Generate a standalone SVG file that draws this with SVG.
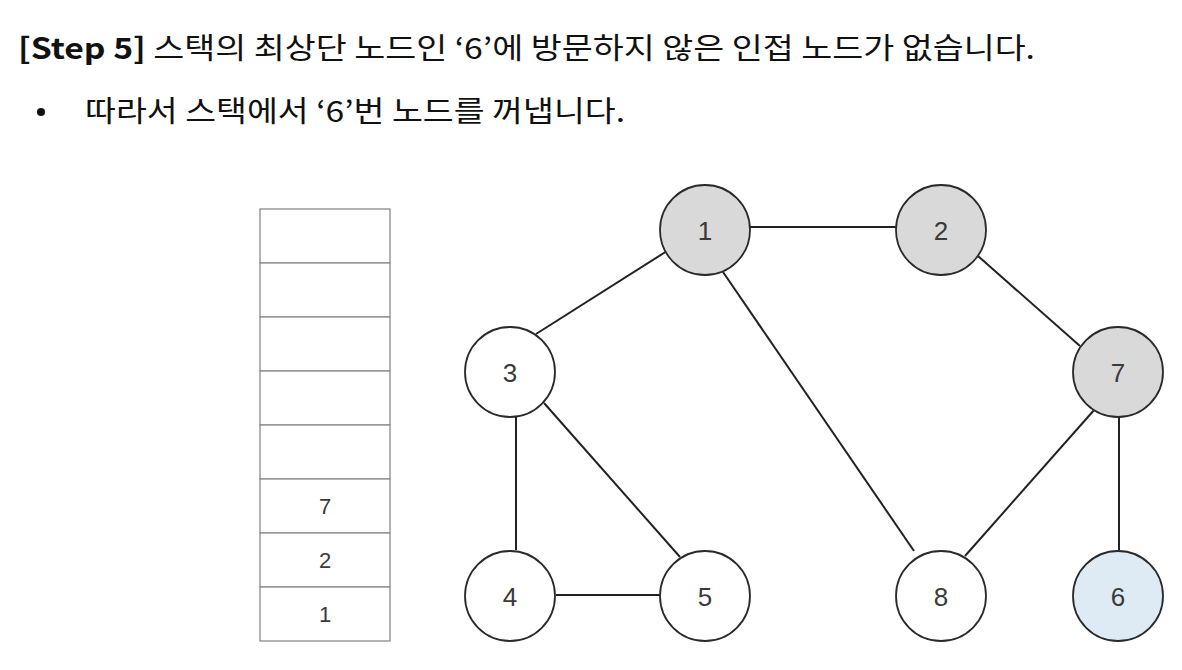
<svg xmlns="http://www.w3.org/2000/svg" width="1182" height="670" viewBox="0 0 1182 670">
<style>
.t{font-family:"Noto Sans CJK KR","Liberation Sans",sans-serif;fill:#111;font-size:29px}
.cell{fill:#fff;stroke:#8a8a8a;stroke-width:1.3}
.ct{font-family:"Liberation Sans",Arial,sans-serif;font-size:22px;fill:#3a3a3a;text-anchor:middle}
.n{stroke:#2a2a2a;stroke-width:1.8}
.w{fill:#fff}.g{fill:#d9d9d9}.b{fill:#deebf5}
.nt{font-family:"Liberation Sans",Arial,sans-serif;font-size:26px;fill:#3a3a3a;text-anchor:middle}
.e{stroke:#222;stroke-width:2;fill:none}
</style>
<rect width="1182" height="670" fill="#fff"/>
<text class="t" x="18" y="59" textLength="1017" lengthAdjust="spacingAndGlyphs"><tspan font-weight="600">[Step 5]</tspan> 스택의 최상단 노드인 ‘6’에 방문하지 않은 인접 노드가 없습니다.</text>
<circle cx="41" cy="112" r="4" fill="#111"/>
<text class="t" x="85" y="122" textLength="540" lengthAdjust="spacingAndGlyphs">따라서 스택에서 ‘6’번 노드를 꺼냅니다.</text>
<g id="stack">
<rect class="cell" x="260" y="209" width="130" height="54"/>
<rect class="cell" x="260" y="263" width="130" height="54"/>
<rect class="cell" x="260" y="317" width="130" height="54"/>
<rect class="cell" x="260" y="371" width="130" height="54"/>
<rect class="cell" x="260" y="425" width="130" height="54"/>
<rect class="cell" x="260" y="479" width="130" height="54"/>
<rect class="cell" x="260" y="533" width="130" height="54"/>
<rect class="cell" x="260" y="587" width="130" height="54"/>
<text class="ct" x="325" y="514">7</text>
<text class="ct" x="325" y="568">2</text>
<text class="ct" x="325" y="622">1</text>
</g>
<g id="edges">
<line class="e" x1="750" y1="227" x2="896" y2="227"/>
<line class="e" x1="667" y1="251" x2="536" y2="334"/>
<line class="e" x1="723" y1="272" x2="914" y2="551"/>
<line class="e" x1="978" y1="256" x2="1080" y2="346"/>
<line class="e" x1="1095" y1="409" x2="965" y2="556"/>
<line class="e" x1="1119" y1="417" x2="1119" y2="550"/>
<line class="e" x1="516" y1="417" x2="516" y2="550"/>
<line class="e" x1="544" y1="403" x2="680" y2="557"/>
<line class="e" x1="556" y1="595" x2="660" y2="595"/>
</g>
<g id="node1"><circle class="n g" cx="705" cy="230" r="45"/><text class="nt" x="705" y="240">1</text></g>
<g id="node2"><circle class="n g" cx="941" cy="230" r="45"/><text class="nt" x="941" y="240">2</text></g>
<g id="node3"><circle class="n w" cx="510" cy="372" r="45"/><text class="nt" x="510" y="382">3</text></g>
<g id="node7"><circle class="n g" cx="1118" cy="372" r="45"/><text class="nt" x="1118" y="382">7</text></g>
<g id="node4"><circle class="n w" cx="510" cy="596" r="45"/><text class="nt" x="510" y="606">4</text></g>
<g id="node5"><circle class="n w" cx="705" cy="596" r="45"/><text class="nt" x="705" y="606">5</text></g>
<g id="node8"><circle class="n w" cx="941" cy="596" r="45"/><text class="nt" x="941" y="606">8</text></g>
<g id="node6"><circle class="n b" cx="1118" cy="596" r="45"/><text class="nt" x="1118" y="606">6</text></g>
</svg>
